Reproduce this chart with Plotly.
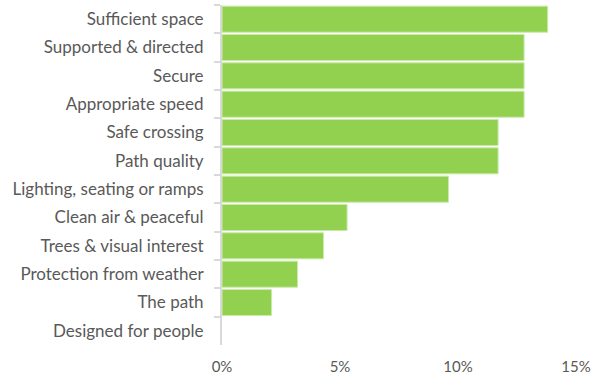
import plotly.graph_objects as go

categories = [
    "Sufficient space",
    "Supported & directed",
    "Secure",
    "Appropriate speed",
    "Safe crossing",
    "Path quality",
    "Lighting, seating or ramps",
    "Clean air & peaceful",
    "Trees & visual interest",
    "Protection from weather",
    "The path",
    "Designed for people",
]
shares = [13.8, 12.8, 12.8, 12.8, 11.7, 11.7, 9.6, 5.3, 4.3, 3.2, 2.1, 0.0]
x_ticks = [0, 5, 10, 15]
x_tick_labels = ["0%", "5%", "10%", "15%"]

font_family = "Lato, 'Open Sans', sans-serif"
label_grey = "#595959"

# no outline on empty bars so nothing is drawn at zero
outline_widths = [1 if v > 0 else 0 for v in shares]

fig = go.Figure(
    go.Bar(
        x=shares,
        y=categories,
        orientation="h",
        marker=dict(color="#92D050", line=dict(color="#C9EAA8", width=outline_widths)),
        hoverinfo="x+y",
    )
)

fig.update_layout(
    width=596,
    height=376,
    margin=dict(l=222, r=20, t=5, b=31),
    paper_bgcolor="white",
    plot_bgcolor="white",
    bargap=0.08,
    showlegend=False,
    font=dict(family=font_family, size=17, color=label_grey),
)

fig.update_xaxes(
    range=[0, 15],
    tickmode="array",
    tickvals=x_ticks,
    ticktext=x_tick_labels,
    showgrid=False,
    zeroline=False,
    showline=False,
    ticks="",
    tickfont=dict(size=15, color=label_grey),
    ticklabelstandoff=11,
    automargin=False,
)

fig.update_yaxes(
    categoryorder="array",
    categoryarray=categories,
    autorange="reversed",
    showgrid=False,
    zeroline=False,
    showline=True,
    linecolor="#D9D9D9",
    linewidth=2,
    ticks="outside",
    tickson="boundaries",
    ticklen=6,
    tickwidth=2,
    tickcolor="#D9D9D9",
    tickfont=dict(size=17, color=label_grey),
    ticklabelstandoff=13,
    automargin=False,
)

fig.write_html("out.html")
